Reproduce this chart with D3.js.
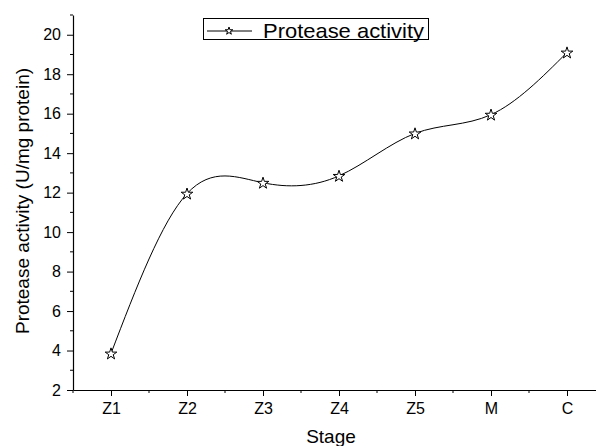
<!DOCTYPE html>
<html>
<head>
<meta charset="utf-8">
<script src="https://cdn.jsdelivr.net/npm/d3@7"></script>
<style>
  body { margin: 0; background: #fff; }
  text { font-family: "Liberation Sans", Arial, sans-serif; fill: #000; }
</style>
</head>
<body>
<div id="chart"></div>
<script>
// data
var stages = ["Z1", "Z2", "Z3", "Z4", "Z5", "M", "C"];
var activity = [3.85, 11.95, 12.5, 12.85, 15.0, 15.95, 19.1];
var yTicks = [2, 4, 6, 8, 10, 12, 14, 16, 18, 20];
var yMinorTicks = [3, 5, 7, 9, 11, 13, 15, 17, 19, 21];

var width = 596;
var height = 446;

var svg = d3.select("#chart").append("svg")
    .attr("width", width)
    .attr("height", height);

svg.append("rect").attr("width", width).attr("height", height).attr("fill", "#fff");

// x runs past the right edge, the original export is cut there
var x = d3.scalePoint()
    .domain(stages)
    .range([73, 605])
    .padding(0.5);

var y = d3.scaleLinear()
    .domain([2, 21])
    .range([390, 15]);

// x axis
var xAxis = svg.append("g")
    .attr("transform", "translate(0,390)")
    .call(d3.axisBottom(x).tickSize(6).tickSizeOuter(0).tickPadding(7));
xAxis.selectAll("text").style("font-size", "16px");

// minor x ticks between categories
var step = x.step();
var xMinor = stages.map(function(s) { return x(s) - step / 2; });
xMinor.push(x(stages[stages.length - 1]) + step / 2);
svg.append("g").selectAll("line")
    .data(xMinor)
    .enter()
    .append("line")
    .attr("x1", function(d) { return d; })
    .attr("x2", function(d) { return d; })
    .attr("y1", 390)
    .attr("y2", 393)
    .attr("stroke", "#000");

// y axis
var yAxis = svg.append("g")
    .attr("transform", "translate(73,0)")
    .call(d3.axisLeft(y).tickValues(yTicks).tickSize(6).tickSizeOuter(0).tickPadding(6));
yAxis.selectAll("text").style("font-size", "16px");

svg.append("g").selectAll("line")
    .data(yMinorTicks)
    .enter()
    .append("line")
    .attr("x1", 70)
    .attr("x2", 73)
    .attr("y1", function(d) { return y(d); })
    .attr("y2", function(d) { return y(d); })
    .attr("stroke", "#000");

svg.selectAll(".domain").attr("stroke", "#000").attr("stroke-width", 1.2);

// axis titles
svg.append("text")
    .attr("x", 331)
    .attr("y", 443)
    .attr("text-anchor", "middle")
    .style("font-size", "19px")
    .text("Stage");

svg.append("text")
    .attr("transform", "translate(29,201) rotate(-90)")
    .attr("text-anchor", "middle")
    .style("font-size", "19px")
    .text("Protease activity (U/mg protein)");

// spline through the points
var line = d3.line()
    .x(function(d, i) { return x(stages[i]); })
    .y(function(d) { return y(d); })
    .curve(d3.curveNatural);

svg.append("path")
    .datum(activity)
    .attr("d", line)
    .attr("fill", "none")
    .attr("stroke", "#000")
    .attr("stroke-width", 1);

var star = d3.symbol().type(d3.symbolStar).size(42);
svg.append("g").selectAll("path")
    .data(activity)
    .enter()
    .append("path")
    .attr("d", star)
    .attr("transform", function(d, i) { return "translate(" + x(stages[i]) + "," + (y(d) + 0.5) + ")"; })
    .attr("fill", "#fff")
    .attr("stroke", "#000")
    .attr("stroke-width", 1);

// legend
var legend = svg.append("g");
legend.append("rect")
    .attr("x", 203.5)
    .attr("y", 18.5)
    .attr("width", 225)
    .attr("height", 21)
    .attr("fill", "#fff")
    .attr("stroke", "#000");
legend.append("line")
    .attr("x1", 207)
    .attr("x2", 252)
    .attr("y1", 31)
    .attr("y2", 31)
    .attr("stroke", "#000");
legend.append("path")
    .attr("d", d3.symbol().type(d3.symbolStar).size(18))
    .attr("transform", "translate(229,31)")
    .attr("fill", "#fff")
    .attr("stroke", "#000");
legend.append("text")
    .attr("x", 263)
    .attr("y", 38)
    .attr("textLength", 161)
    .attr("lengthAdjust", "spacingAndGlyphs")
    .style("font-size", "21px")
    .text("Protease activity");
</script>
</body>
</html>
